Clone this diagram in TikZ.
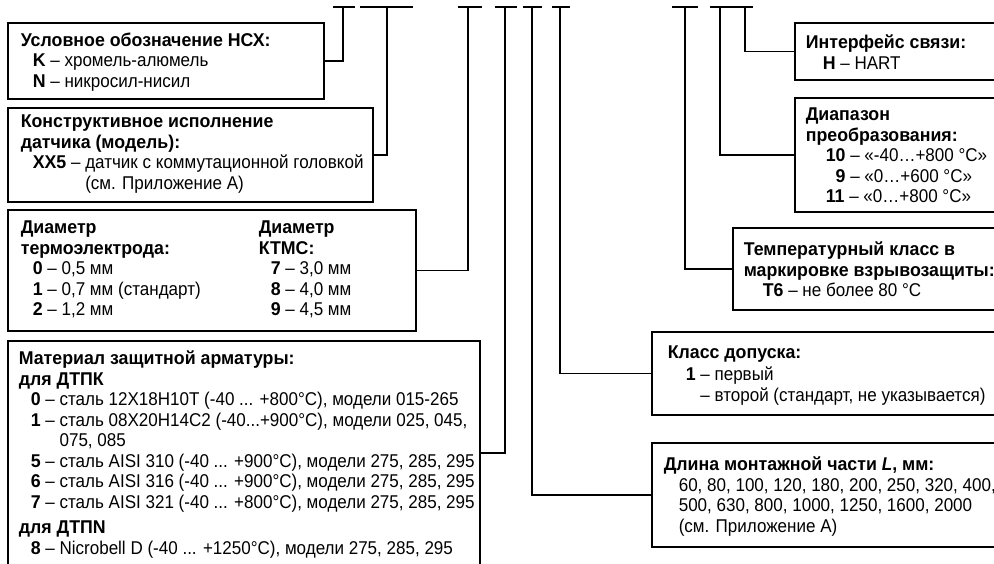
\documentclass[tikz,border=0pt]{standalone}
\usepackage{fontspec}
\setmainfont{Liberation Sans}[FakeStretch=0.92, BoldFeatures={FakeStretch=0.96}]
\usetikzlibrary{positioning}
\newcommand{\ind}[1][12pt]{\hspace*{#1}}

\begin{document}
\begin{tikzpicture}[x=1pt, y=-1pt, line width=1.6pt,
    box/.style={draw, rectangle, inner sep=0pt, outer sep=0pt, anchor=north west},
    txt/.style={anchor=north west, inner sep=0pt, align=left,
      font=\fontsize{18.5}{20.5}\selectfont}]
  \useasboundingbox (0,0) rectangle (994,563);
  \clip (0,0) rectangle (994,563);
  % underline bars of the code and their taps
  \foreach \n/\x/\a/\b in {s1/343/333/355, s2/387/360/413, s3/468/458/482,
      s4/505/495/517, s5/532/523/542, s6/560/552/570,
      s7/685/672/698, s8/720/710/733, s9/745/733/753} {
    \coordinate (\n) at (\x,7);
    \draw (\a,7) -- (\b,7);
  }
  % left boxes
  \node[box, minimum width=316, minimum height=76]  (nsx)   at (8,23)  {};
  \node[box, minimum width=365, minimum height=94]  (model) at (8,108) {};
  \node[box, minimum width=408, minimum height=121] (diam)  at (8,210) {};
  \node[box, minimum width=472, minimum height=224] (mat)   at (8,341) {};
  % right boxes
  \node[box, minimum width=215, minimum height=57]  (iface) at (795,23)  {};
  \node[box, minimum width=215, minimum height=114] (range) at (795,98)  {};
  \node[box, minimum width=277, minimum height=82]  (tcls)  at (733,228) {};
  \node[box, minimum width=358, minimum height=83]  (tol)   at (652,332) {};
  \node[box, minimum width=358, minimum height=104] (len)   at (652,443) {};
  % texts
  \node[txt] (nsxt) at (20,32) {\textbf{Условное обозначение НСХ:}\\
    \ind\textbf{K} – хромель-алюмель\\
    \ind\textbf{N} – никросил-нисил};
  \node[txt] (modelt) at (20,114) {\textbf{Конструктивное исполнение}\\
    \textbf{датчика (модель):}\\
    \ind\textbf{XX5} – датчик с коммутационной головкой\\
    \ind\hphantom{\textbf{XX5} – }(см. Приложение А)};
  \node[txt] (diamt) at (20,220) {\textbf{Диаметр}\\
    \textbf{термоэлектрода:}\\
    \ind\textbf{0} – 0,5 мм\\
    \ind\textbf{1} – 0,7 мм (стандарт)\\
    \ind\textbf{2} – 1,2 мм};
  \node[txt] (ktmst) at (258,220) {\textbf{Диаметр}\\
    \textbf{КТМС:}\\
    \ind\textbf{7} – 3,0 мм\\
    \ind\textbf{8} – 4,0 мм\\
    \ind\textbf{9} – 4,5 мм};
  \node[txt] (matt) at (18,350) {\textbf{Материал защитной арматуры:}\\
    \textbf{для ДТПК}\\
    \ind\textbf{0} – сталь 12Х18Н10Т (-40 ... +800°C), модели 015-265\\
    \ind\textbf{1} – сталь 08Х20Н14С2 (-40...+900°C), модели 025, 045,\\
    \ind\hphantom{\textbf{1} – }075, 085\\
    \ind\textbf{5} – сталь AISI 310 (-40 ... +900°C), модели 275, 285, 295\\
    \ind\textbf{6} – сталь AISI 316 (-40 ... +900°C), модели 275, 285, 295\\
    \ind\textbf{7} – сталь AISI 321 (-40 ... +800°C), модели 275, 285, 295\\[5pt]
    \textbf{для ДТПN}\\
    \ind\textbf{8} – Nicrobell D (-40 ... +1250°C), модели 275, 285, 295};
  \node[txt] (ifacet) at (805,34) {\textbf{Интерфейс связи:}\\
    \ind[17pt]\textbf{H} – HART};
  \node[txt] (ranget) at (805,107) {\textbf{Диапазон}\\
    \textbf{преобразования:}\\
    \ind[20pt]\textbf{10} – «-40…+800 °C»\\
    \ind[20pt]\hphantom{\textbf{1}}\textbf{9} – «0…+600 °C»\\
    \ind[20pt]\textbf{11} – «0…+800 °C»};
  \node[txt] (tclst) at (743,241) {\textbf{Температурный класс в}\\
    \textbf{маркировке взрывозащиты:}\\
    \ind[19pt]\textbf{T6} – не более 80 °C};
  \node[txt, font=\fontsize{18.5}{21.5}\selectfont] (tolt) at (667,345) {\textbf{Класс допуска:}\\
    \ind[18pt]\textbf{1} – первый\\
    \ind[18pt]\hphantom{\textbf{1} }– второй (стандарт, не указывается)};
  \node[txt] (lent) at (663,456) {\textbf{Длина монтажной части \textit{L}, мм:}\\
    \ind[15pt]60, 80, 100, 120, 180, 200, 250, 320, 400,\\
    \ind[15pt]500, 630, 800, 1000, 1250, 1600, 2000\\
    \ind[15pt](см. Приложение А)};
  % connectors
  \draw (s1) |- (nsx.east);
  \draw (s2) |- (model.east);
  \draw (s3) |- (diam.east);
  \draw (s4) |- (mat.east);
  \draw (s5) |- (len.west);
  \draw (s6) |- (tol.west);
  \draw (s7) |- (tcls.west);
  \draw (s8) |- (range.west);
  \draw (s9) |- (iface.west);
\end{tikzpicture}
\end{document}
